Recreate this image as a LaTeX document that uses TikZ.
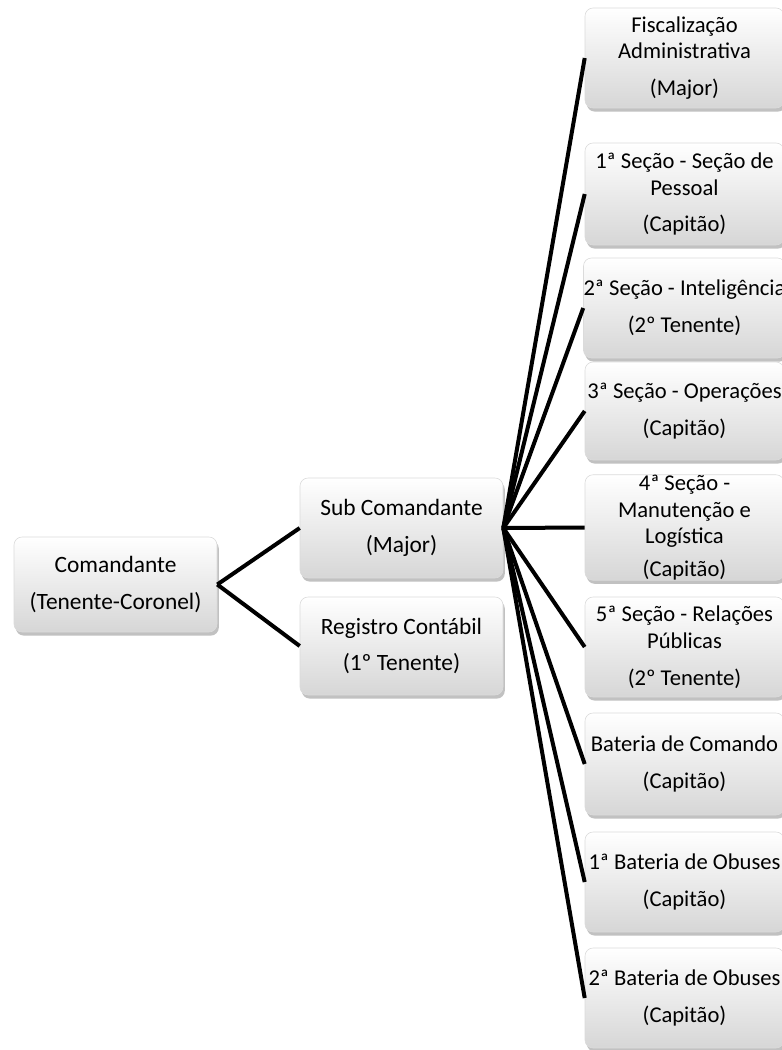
\documentclass[tikz,border=0pt]{standalone}
\usepackage{fontspec}
\setmainfont{Carlito}
\usetikzlibrary{shadows}
\begin{document}
\begin{tikzpicture}[x=0.5pt,y=-0.5pt,
  box/.style={rounded corners=4pt, top color=white, bottom color=black!16,
    draw=black!14, line width=0.3pt, align=center, inner sep=0pt,
    font=\fontsize{11.7}{13.4}\selectfont,
    drop shadow={shadow xshift=0.9pt, shadow yshift=-1.8pt, opacity=0.35, fill=black!70}},
  leftbox/.style={box, minimum width=101.5pt},
  rightbox/.style={box, minimum width=99.5pt, font=\fontsize{11.3}{13.4}\selectfont},
  link/.style={line width=2pt, black}]
\useasboundingbox (0,0) rectangle (782,1050);

\node[leftbox, minimum height=47.5pt] (cmd) at (115.5,584.5) {Comandante\\[5pt](Tenente-Coronel)};
\node[leftbox, minimum height=50pt] (sub) at (401.5,528) {Sub Comandante\\[5pt](Major)};
\node[leftbox, minimum height=49pt] (reg) at (401.5,646) {Registro Contábil\\[5pt](1º Tenente)};

\node[rightbox, minimum height=50pt] (fisc) at (684.5,58) {Fiscalização\\Administrativa\\[5pt](Major)};
\node[rightbox, minimum height=51pt] (s1) at (684.5,194) {1ª Seção - Seção de\\Pessoal\\[5pt](Capitão)};
\node[rightbox, minimum height=50pt] (s2) at (684.5,308) {2ª Seção - Inteligência\\[5pt](2º Tenente)};
\node[rightbox, minimum height=49pt] (s3) at (684.5,411) {3ª Seção - Operações\\[5pt](Capitão)};
\node[rightbox, minimum height=52.5pt] (s4) at (684.5,527.5) {4ª Seção -\\Manutenção e\\Logística\\[3pt](Capitão)};
\node[rightbox, minimum height=50pt] (s5) at (684.5,647) {5ª Seção - Relações\\Públicas\\[5pt](2º Tenente)};
\node[rightbox, minimum height=51pt] (bc) at (684.5,764) {Bateria de Comando\\[5pt](Capitão)};
\node[rightbox, minimum height=50pt] (b1) at (684.5,882) {1ª Bateria de Obuses\\[5pt](Capitão)};
\node[rightbox, minimum height=50pt] (b2) at (684.5,998) {2ª Bateria de Obuses\\[5pt](Capitão)};

\draw[link] (cmd.east) -- (sub.west);
\draw[link] (cmd.east) -- (reg.west);
\foreach \t in {fisc,s1,s2,s3,s4,s5,bc,b1,b2}
  \draw[link] (sub.east) -- (\t.west);
\end{tikzpicture}
\end{document}
